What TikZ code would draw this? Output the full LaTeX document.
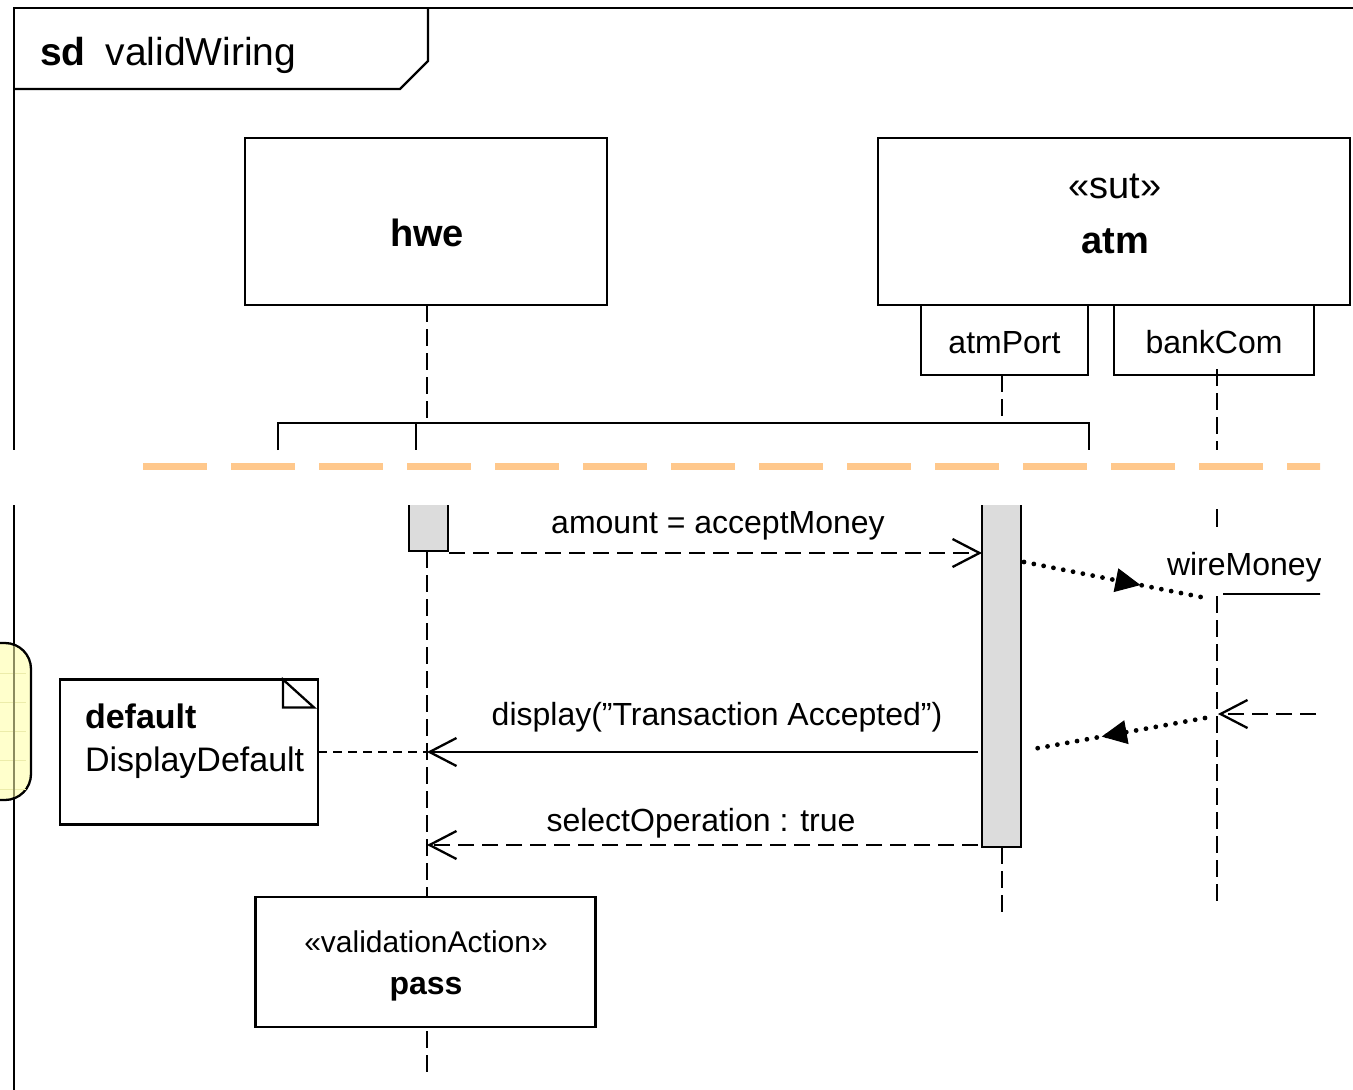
\documentclass[tikz,border=0pt]{standalone}
\usepackage{fontspec}
\setmainfont{Liberation Sans}
\usetikzlibrary{arrows.meta,decorations.markings}

\definecolor{actgray}{RGB}{220,220,220}
\definecolor{cutorange}{RGB}{255,200,140}
\definecolor{guardyellow}{RGB}{255,255,204}
\definecolor{gridyellow}{RGB}{236,236,170}
\definecolor{lineolive}{RGB}{140,140,95}

\newcommand\sizeT{\fontsize{39}{45}\selectfont}
\newcommand\sizeL{\fontsize{38}{44}\selectfont}
\newcommand\sizeM{\fontsize{32}{38}\selectfont}
\newcommand\sizeN{\fontsize{34}{41}\selectfont}
\newcommand\sizeV{\fontsize{30}{36}\selectfont}

\begin{document}
\begin{tikzpicture}[x=1pt,y=-1pt,
  box/.style={draw=black,line width=2.3pt,fill=white,inner sep=0pt,outer sep=0pt},
  actbar/.style={fill=actgray,inner sep=0pt,outer sep=0pt},
  txt/.style={inner sep=0pt,outer sep=0pt,anchor=base},
  edge/.style={line width=2.3pt},
  life/.style={line width=2.3pt,dash pattern=on 17pt off 7pt},
  openhead/.style={-{Straight Barb[length=27pt,width=28pt,line width=2.3pt]}},
  callmsg/.style={line width=2.3pt,openhead},
  replymsg/.style={line width=2.3pt,dash pattern=on 16pt off 8pt,openhead},
  notelink/.style={line width=2.3pt,dash pattern=on 9pt off 6pt},
  dotmsg/.style={line width=4.8pt,line cap=round,dash pattern=on 0pt off 10pt,
    postaction={decorate},
    decoration={markings,mark=at position #1 with
      {\arrow{Triangle[length=25pt,width=24pt,line width=1pt]}}}},
  cutline/.style={cutorange,line width=7pt,dash pattern=on 64pt off 24pt}
]
\useasboundingbox (0,0) rectangle (1353,1090);

% guard region at the left edge
\node[draw=black,line width=2.3pt,fill=guardyellow,rounded corners=26pt,
      minimum width=71pt,minimum height=157pt,inner sep=0pt] (guard) at (-4.5,721.5) {};
\foreach \gy in {673,702,731,760,789}
  \draw[gridyellow,line width=1pt] (0,\gy) -- (26,\gy);

% diagram frame and its name tab
\draw[line width=2.4pt] (1353,8) -- (14,8) -- (14,450);
\draw[line width=2.4pt] (14,505) -- (14,1090);
\draw[line width=2.4pt,lineolive] (14,646) -- (14,797);
\draw[edge] (14,89) -- (400,89) -- (428,61) -- (428,8);
\node[txt,anchor=base west] (title) at (40,65) {\sizeT\textbf{sd}\hspace{20pt}validWiring};

% lifeline heads
\node[box,minimum width=362pt,minimum height=167pt] (hwe) at (426,221.5) {};
\node[txt] (hweName) at (427,246) {\sizeL\bfseries hwe};
\node[box,minimum width=472pt,minimum height=167pt] (atm) at (1114,221.5) {};
\node[txt] (atmStereo) at (1115,198) {\sizeL «sut»};
\node[txt] (atmName) at (1115,253) {\sizeL\bfseries atm};
\node[box,minimum width=167pt,minimum height=70pt] (atmPort) at (1004.5,340) {};
\node[txt] (atmPortName) at (1004.5,353) {\sizeM atmPort};
\node[box,minimum width=200pt,minimum height=70pt] (bankCom) at (1214,340) {};
\node[txt] (bankComName) at (1214,353) {\sizeM bankCom};

% upper lifelines down to the connector bracket
\coordinate (hweJoin) at (427,423);
\coordinate (atmJoin) at (1002,423);
\coordinate (bankCut) at (1217,450);
\draw[life] (hweJoin |- hwe.south) -- (hweJoin);
\draw[life] (atmJoin |- atmPort.south) -- (atmJoin);
\draw[life] ([yshift=6pt]bankCut |- bankCom.south) -- (bankCut);

% connector bracket
\coordinate (brL) at (278,450);
\coordinate (brM) at (416,450);
\coordinate (brR) at (1089,450);
\draw[edge] (brL) -- (brL |- hweJoin) -- (brR |- hweJoin) -- (brR);
\draw[edge] (brM |- hweJoin) -- (brM);

% activation bars
\node[actbar,minimum width=39pt,minimum height=46pt] (hweAct) at (428.5,528) {};
\draw[edge] (hweAct.north west) -- (hweAct.south west) -- (hweAct.south east) -- (hweAct.north east);
\node[actbar,minimum width=39pt,minimum height=342pt] (atmAct) at (1001.5,676) {};
\draw[edge] (atmAct.north west) -- (atmAct.south west) -- (atmAct.south east) -- (atmAct.north east);

% lower lifelines
\coordinate (hweEnd) at (427,1075);
\coordinate (atmEnd) at (1002,915);
\coordinate (bankTop) at (1217,509);
\coordinate (bankGap) at (1217,527);
\coordinate (bankResume) at (1217,596);
\coordinate (bankEnd) at (1217,905);
\draw[life] (hweAct.south -| hweEnd) -- (hweEnd);
\draw[life] (atmAct.south -| atmEnd) -- (atmEnd);
\draw[edge] (bankTop) -- (bankGap);
\draw[life] (bankResume) -- (bankEnd);

% messages
\coordinate (m1s) at (449,553);
\coordinate (m1e) at (982,553);
\draw[replymsg] (m1s) -- (m1e);
\node[txt] (m1Label) at (718,533) {\sizeM amount = acceptMoney};

\coordinate (d1s) at (1024,562);
\coordinate (d1e) at (1206,598);
\draw[dotmsg=0.64] (d1s) -- (d1e);

\coordinate (d2s) at (1205,718);
\coordinate (d2e) at (1033,749);
\draw[dotmsg=0.60] (d2s) -- (d2e);

\coordinate (m3s) at (978,752);
\coordinate (m3e) at (427,752);
\draw[callmsg] (m3s) -- (m3e);
\node[txt] (m3Label) at (717,725) {\sizeM display(”Transaction Accepted”)};

\coordinate (m4s) at (978,845);
\coordinate (m4e) at (427,845);
\draw[replymsg] (m4s) -- (m4e);
\node[txt] (m4Label) at (701,831) {\sizeM selectOperation : true};

% note attached to the display message
\node[box,minimum width=258pt,minimum height=145pt] (note) at (189,752) {};
\draw[edge] ([xshift=-35pt]note.north east) -- ++(0,28) -- ++(31,0) -- cycle;
\node[txt,anchor=base west] (noteKey) at (85,728) {\sizeN\bfseries default};
\node[txt,anchor=base west] (noteBody) at (85,771) {\sizeN DisplayDefault};
\draw[notelink] (note.east) -- (m3e);

% validation action
\node[box,minimum width=340pt,minimum height=130pt] (pass) at (425.5,962) {};
\node[txt] (passStereo) at (426,952) {\sizeV «validationAction»};
\node[txt] (passName) at (426,994) {\sizeM\bfseries pass};

% items running into the right border
\begin{scope}
  \clip (0,0) rectangle (1320,1090);
  \draw[cutline] (143,466) -- (1353,466);
  \node[txt,anchor=base west] (wmLabel) at (1167,575) {\sizeM wireMoney};
  \coordinate (wmStart) at (1223,594);
  \coordinate (gateOut) at (1340,594);
  \draw[edge] (wmStart) -- (gateOut);
  \coordinate (gateIn) at (1340,714);
  \coordinate (bankIn) at (1218,714);
  \draw[replymsg] (gateIn) -- (bankIn);
\end{scope}
\end{tikzpicture}
\end{document}
